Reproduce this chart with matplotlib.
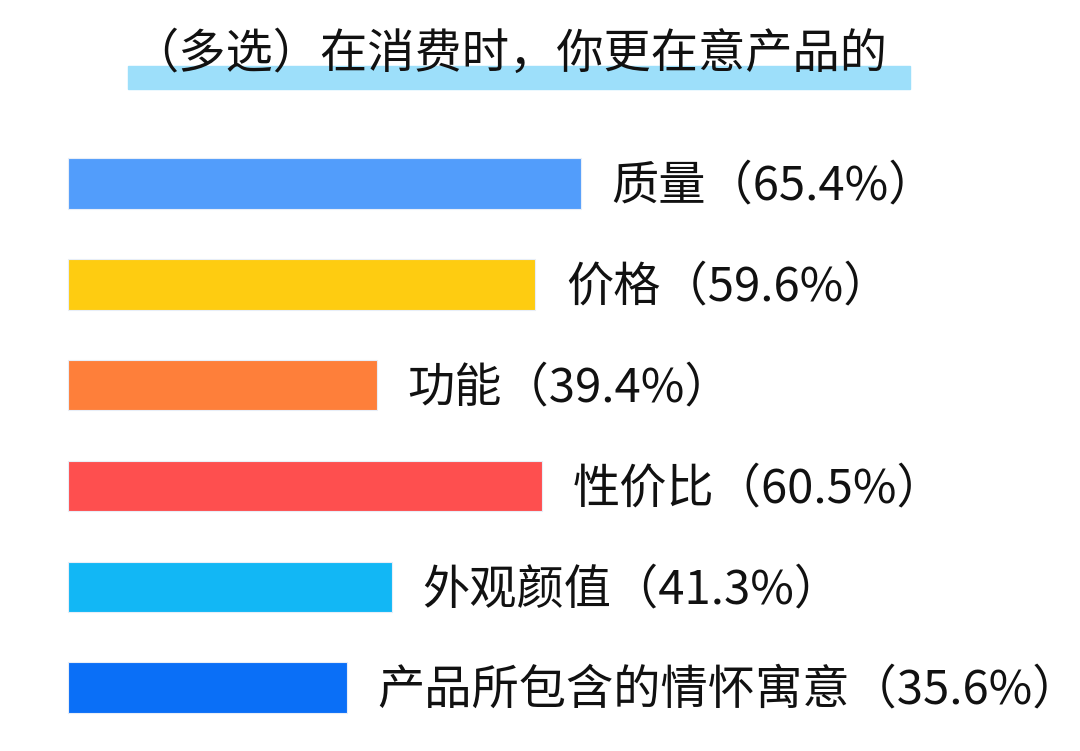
import matplotlib
matplotlib.use('Agg')
import matplotlib.pyplot as plt
from matplotlib.patches import Rectangle

plt.rcParams['font.family'] = ['Noto Sans CJK SC', 'DejaVu Sans']

title = '（多选）在消费时，你更在意产品的'
categories = ['质量', '价格', '功能', '性价比', '外观颜值', '产品所包含的情怀寓意']
values = [65.4, 59.6, 39.4, 60.5, 41.3, 35.6]
colors = ['#529dfb', '#fecc11', '#fe7f3a', '#fe4f4f', '#12b7f5', '#0a6ff7']

W, H = 1080, 751
fig = plt.figure(figsize=(W / 100, H / 100), dpi=100)
ax = fig.add_axes([0, 0, 1, 1])

# pixel layout: bars start at x=68, 7.84 px per percent, rows 100.8 px apart
x0, pxper = 68, 7.84
y0, rowh = 183.5, 100.8
ax.set_xlim(-x0 / pxper, (W - x0) / pxper)
ax.set_ylim((H - y0) / rowh, -y0 / rowh)
ax.axis('off')

ypos = list(range(len(categories)))
ax.barh(ypos, values, height=0.5, color=colors, edgecolor='#e8eef8', linewidth=0.8)
for y, v, c in zip(ypos, values, categories):
    ax.text(v + 3.9, y + 0.03, '{}（{}%）'.format(c, v), va='center', ha='left',
            fontsize=34, color='#111111')

# title with highlight strip underneath
fig.patches.append(Rectangle((128 / W, 1 - 89 / H), (910 - 128) / W, 23 / H,
                             transform=fig.transFigure, color='#9ddffa', zorder=0))
fig.text(509 / W, 1 - 55 / H, title, ha='center', va='center', fontsize=34,
         fontweight='medium', color='#111111', zorder=2)

fig.savefig('out.png', dpi=100, facecolor='white')
